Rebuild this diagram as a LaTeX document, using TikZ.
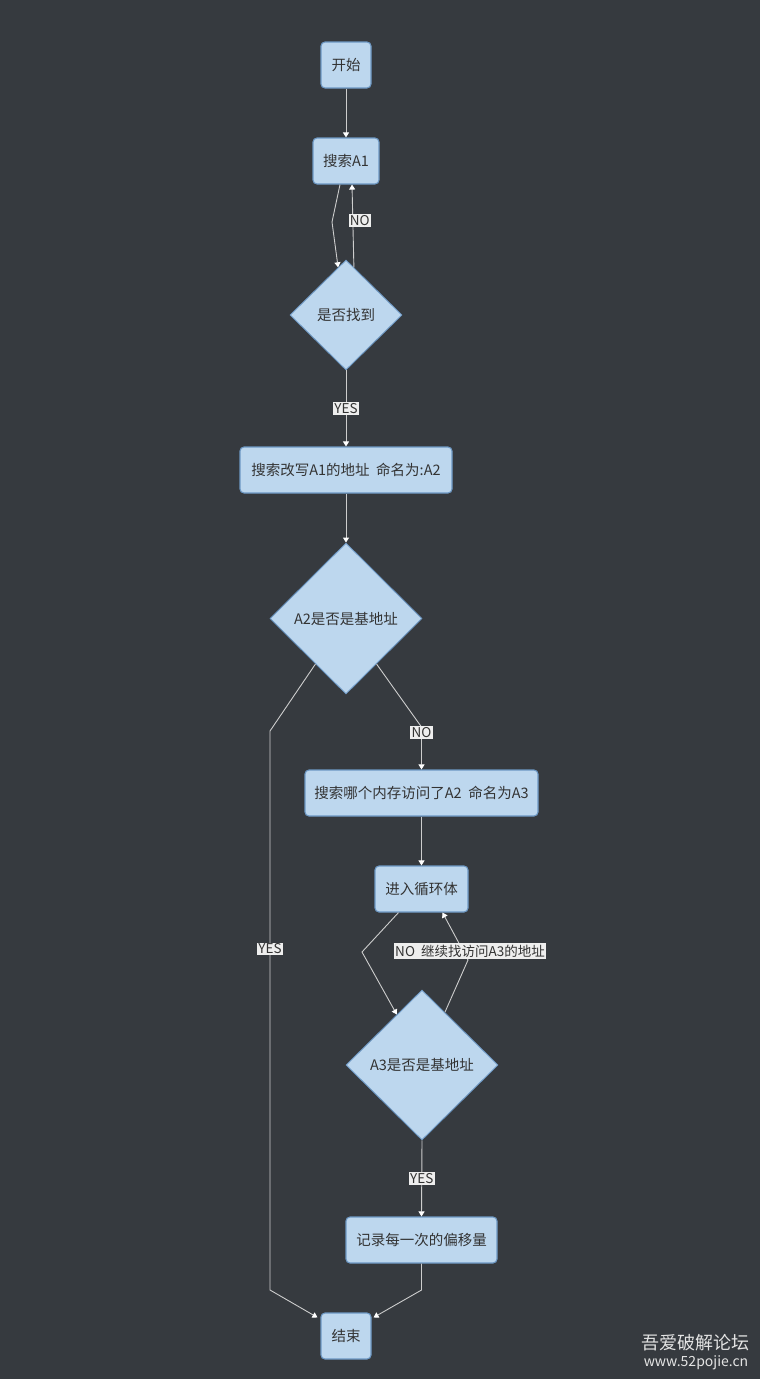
\documentclass[tikz,border=0pt]{standalone}
\usepackage{fontspec}
\setmainfont{Noto Sans CJK SC}
\usetikzlibrary{shapes.geometric,arrows.meta,calc}
\definecolor{bg}{RGB}{54,58,63}
\definecolor{boxfill}{RGB}{189,215,238}
\definecolor{boxline}{RGB}{109,152,196}
\definecolor{wire}{RGB}{205,205,205}
\definecolor{ink}{RGB}{51,51,51}
\definecolor{tagfill}{RGB}{238,238,238}
\definecolor{mark}{RGB}{228,228,228}
\begin{document}
\begin{tikzpicture}[x=1pt,y=-1pt,
  stepbox/.style={draw=boxline, line width=1.1pt, fill=boxfill, rounded corners=4pt,
    minimum height=46pt, inner sep=0pt, text=ink, font=\fontsize{14.5}{17}\selectfont},
  decision/.style={diamond, draw=boxline, line width=0.9pt, fill=boxfill, inner sep=0pt,
    text=ink, font=\fontsize{14.5}{17}\selectfont},
  flow/.style={draw=wire, line width=0.9pt, -{Triangle[width=6pt,length=5pt,color=white]}},
  tag/.style={fill=tagfill, text=ink, inner sep=1.3pt, font=\fontsize{13.5}{15}\selectfont}
]
% canvas
\fill[bg] (0,0) rectangle (760,1379);
\useasboundingbox (0,0) rectangle (760,1379);

% steps and decisions
\node[stepbox, minimum width=50pt]  (start) at (346,65)     {开始};
\node[stepbox, minimum width=66pt]  (a1)    at (346,161)    {搜索A1};
\node[decision, minimum width=112pt, minimum height=110pt] (d1) at (346,315) {是否找到};
\node[stepbox, minimum width=212pt] (a2)    at (346,470)    {搜索改写A1的地址\ \ 命名为:A2};
\node[decision, minimum width=152pt, minimum height=151pt] (d2) at (346,618.5) {A2是否是基地址};
\node[stepbox, minimum width=233pt] (a3)    at (421.5,793)  {搜索哪个内存访问了A2\ \ 命名为A3};
\node[stepbox, minimum width=93pt]  (loop)  at (421.5,889)  {进入循环体};
\node[decision, minimum width=152pt, minimum height=150pt] (d3) at (422,1065) {A3是否是基地址};
\node[stepbox, minimum width=151pt] (rec)   at (421.5,1240) {记录每一次的偏移量};
\node[stepbox, minimum width=50pt]  (end)   at (346,1336)   {结束};

% bend points
\coordinate (b1)  at (332,222);
\coordinate (b2r) at (421.5,727);
\coordinate (b2l) at (270,731);
\coordinate (b2d) at (270,1290);
\coordinate (b3l) at (362,952);
\coordinate (b3r) at (468,960);
\coordinate (b4)  at (421.5,1290);

% connectors
\draw[flow] (start) -- (a1);
\draw[flow] ([xshift=-6pt]a1.south) -- (b1) -- ($(d1.north)!0.14!(d1.west)$);
\draw[flow] ($(d1.north)!0.14!(d1.east)$) -- node[tag, pos=0.57, xshift=7pt] {NO} ([xshift=6pt]a1.south);
\draw[flow] (d1.south) -- node[tag] {YES} (a2.north);
\draw[flow] (a2.south) -- (d2.north);
\draw[flow] ($(d2.east)!0.6!(d2.south)$) -- (b2r) -- node[tag, pos=0.12] {NO} (a3.north);
\draw[flow] ($(d2.west)!0.6!(d2.south)$) -- (b2l) -- node[tag, pos=0.39] {YES} (b2d)
  -- ([xshift=-3pt,yshift=-5pt]end.north west);
\draw[flow] (a3.south) -- (loop.north);
\draw[flow] ([xshift=-23pt]loop.south) -- (b3l) -- ($(d3.north)!0.33!(d3.west)$);
\draw[flow] ($(d3.north)!0.3!(d3.east)$) -- (b3r) -- ([xshift=21pt]loop.south);
\node[tag] (looptag) at (470,951) {NO\ \ 继续找访问A3的地址};
\draw[flow] (d3.south) -- node[tag] {YES} (rec.north);
\draw[flow] (rec.south) -- (b4) -- ([xshift=2pt,yshift=-5pt]end.north east);

% site mark
\node[text=mark, font=\fontsize{18}{20}\selectfont] (wm1) at (695.5,1343) {吾爱破解论坛};
\node[text=mark, font=\fontsize{14}{16}\selectfont] (wm2) at (696,1363) {www.52pojie.cn};
\end{tikzpicture}
\end{document}
